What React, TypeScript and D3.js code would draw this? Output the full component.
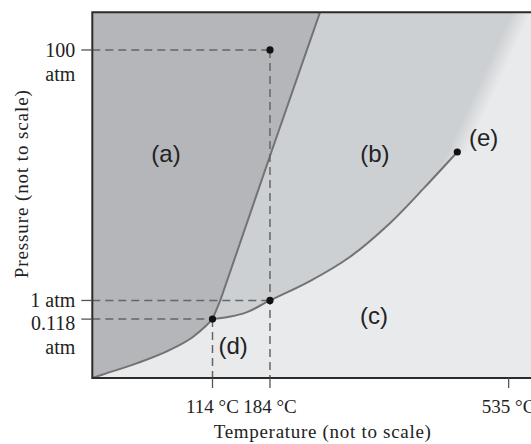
import React from 'react';
import * as d3 from 'd3';

// schematic units (diagram is "not to scale"): x 0..100, y 0..100
const tempTickLabels = ['114 °C', '184 °C', '535 °C'];
const tempTickPos = [27.4, 40.5, 94.9];
const presTickLabels = [['100', 'atm'], ['1 atm'], ['0.118', 'atm']];
const presTickPos = [89.7, 21.2, 16.1];

const sublimationCurve = [[0, 0], [2.4, 0.95], [10.1, 4.0], [17.7, 7.7], [23.0, 11.3], [26.1, 14.5], [27.4, 16.1]];
const meltingCurve = [[27.4, 16.1], [29.2, 21.3], [40.5, 60.7], [51.9, 100]];
const vaporCurve = [
  [27.4, 16.1], [30.9, 16.7], [34.8, 17.8], [40.5, 21.2], [49.6, 26.5],
  [58.7, 33.1], [67.9, 42.4], [75.8, 52.2], [83.2, 61.8],
];
const supercriticalEdge = [[83.2, 61.8], [97.9, 100]];

const markedPoints = [[40.5, 89.7], [40.5, 21.2], [27.4, 16.1], [83.2, 61.8]];
// dashed guide lines: [from, to]
const guides = [
  [[0, 89.7], [40.5, 89.7]],
  [[40.5, 89.7], [40.5, 0]],
  [[0, 21.2], [40.5, 21.2]],
  [[0, 16.1], [27.4, 16.1]],
  [[27.4, 16.1], [27.4, 0]],
];

const regionLabels = ['(a)', '(b)', '(c)', '(d)', '(e)'];
const regionLabelPos = [[16.8, 61.3], [64.4, 61.3], [64.2, 17.0], [32.1, 9.0], [89.2, 65.9]];

const W = 531;
const H = 444;
const serif = '"Liberation Serif", "Times New Roman", serif';
const sans = '"Liberation Sans", Arial, sans-serif';

const App = () => {
  const x = d3.scaleLinear().domain([0, 100]).range([92.3, 531]);
  const y = d3.scaleLinear().domain([0, 100]).range([378, 12.3]);
  const xMax = 105; // frame continues past the window

  const line = d3.line<number[]>().x(d => x(d[0])).y(d => y(d[1]));
  const smooth = d3.line<number[]>().x(d => x(d[0])).y(d => y(d[1])).curve(d3.curveMonotoneX);
  const arc = d3.line<number[]>().x(d => x(d[0])).y(d => y(d[1])).curve(d3.curveCatmullRom.alpha(0.5));

  // solid region: left of sublimation + melting curves
  const solidPath =
    smooth(sublimationCurve) + 'L' + line(meltingCurve.slice(1))!.slice(1) + `L${x(0)},${y(100)}Z`;

  // liquid region: between melting and vaporisation curves, fading out past the critical point
  const liquidPath =
    line(meltingCurve)! +
    `L${x(xMax)},${y(100)}L${x(xMax)},${y(supercriticalEdge[0][1])}` +
    'L' + arc([...vaporCurve].reverse())!.slice(1) + 'Z';

  const [e0, e1] = supercriticalEdge;
  const ex0 = x(e0[0]), ey0 = y(e0[1]), ex1 = x(e1[0]), ey1 = y(e1[1]);
  const len = Math.hypot(ex1 - ex0, ey1 - ey0);
  const nx = (ey0 - ey1) / len, ny = (ex1 - ex0) / len; // normal pointing right/down
  const mx = (ex0 + ex1) / 2, my = (ey0 + ey1) / 2;
  const fw = 9;

  const solidFill = '#b4b6ba';
  const liquidFill = '#cdd0d3';
  const gasFill = '#e9eaeb';

  return (
    <svg width={W} height={H} style={{ position: 'absolute', left: 0, top: 0, background: '#fff' }}>
      <defs>
        <linearGradient id="fade" gradientUnits="userSpaceOnUse"
          x1={mx - nx * fw} y1={my - ny * fw} x2={mx + nx * fw} y2={my + ny * fw}>
          <stop offset="0" stopColor={liquidFill} />
          <stop offset="1" stopColor={gasFill} />
        </linearGradient>
        <clipPath id="plot">
          <rect x={x(0)} y={y(100)} width={x(xMax) - x(0)} height={y(0) - y(100)} />
        </clipPath>
      </defs>

      <g clipPath="url(#plot)">
        <rect x={x(0)} y={y(100)} width={x(xMax) - x(0)} height={y(0) - y(100)} fill={gasFill} />
        <path d={liquidPath} fill="url(#fade)" />
        <path d={solidPath} fill={solidFill} />
        <path d={smooth(sublimationCurve)!} fill="none" stroke="#737373" strokeWidth={2} />
        <path d={line(meltingCurve)!} fill="none" stroke="#737373" strokeWidth={2} />
        <path d={arc(vaporCurve)!} fill="none" stroke="#737373" strokeWidth={2} />
      </g>

      {guides.map((g, i) => (
        <path key={i} d={line(g)!} fill="none" stroke="#666" strokeWidth={1.5} strokeDasharray="8,5" />
      ))}

      {markedPoints.map((p, i) => (
        <circle key={i} cx={x(p[0])} cy={y(p[1])} r={3.6} fill="#111" />
      ))}

      {/* frame */}
      <path d={`M${x(xMax)},${y(100)}L${x(0)},${y(100)}L${x(0)},${y(0)}L${x(xMax)},${y(0)}`}
        fill="none" stroke="#2b2b2b" strokeWidth={2} />

      {/* pressure ticks */}
      {presTickPos.map((v, i) => (
        <g key={i}>
          <line x1={x(0) - 11} x2={x(0)} y1={y(v)} y2={y(v)} stroke="#555" strokeWidth={1.3} />
          {presTickLabels[i].map((t, j) => (
            <text key={j} x={x(0) - 17} y={y(v) + 7 + (i === 2 ? 4 : 0) + j * 24}
              textAnchor="end" fontFamily={serif} fontSize={20} fill="#222">{t}</text>
          ))}
        </g>
      ))}

      {/* temperature ticks */}
      {tempTickPos.map((u, i) => (
        <g key={i}>
          <line x1={x(u)} x2={x(u)} y1={y(0)} y2={y(0) + 10} stroke="#555" strokeWidth={1.3} />
          <text x={x(u)} y={413} textAnchor="middle" fontFamily={serif} fontSize={19} fill="#222">
            {tempTickLabels[i]}
          </text>
        </g>
      ))}

      <text x={(x(0) + x(xMax)) / 2} y={438} textAnchor="middle" fontFamily={serif} fontSize={19}
        letterSpacing={0.7} fill="#222">Temperature (not to scale)</text>
      <text transform={`translate(28,${y(53.1)}) rotate(-90)`} textAnchor="middle" fontFamily={serif}
        fontSize={19} letterSpacing={0.9} fill="#222">Pressure (not to scale)</text>

      {regionLabels.map((t, i) => (
        <text key={i} x={x(regionLabelPos[i][0])} y={y(regionLabelPos[i][1])} textAnchor="middle"
          dominantBaseline="central" fontFamily={sans} fontSize={24} fill="#222">{t}</text>
      ))}
    </svg>
  );
};

export default App;
